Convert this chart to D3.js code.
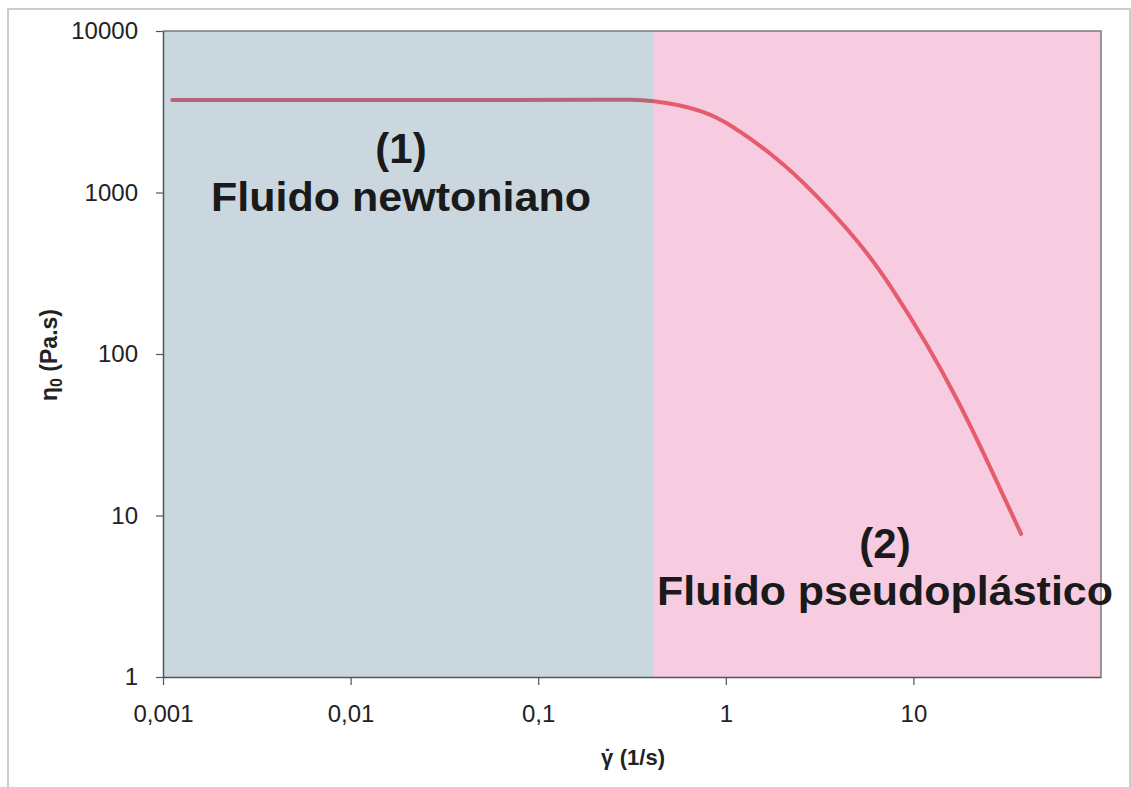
<!DOCTYPE html>
<html>
<head>
<meta charset="utf-8">
<script src="https://cdn.jsdelivr.net/npm/d3@7"></script>
<style>
  body { margin: 0; background: #fff; }
  svg { display: block; }
</style>
</head>
<body>
<svg id="chart"></svg>
<script>
// shear rate (1/s) and viscosity (Pa.s)
const shearRate = [0.00112, 0.05, 0.25, 0.31, 0.414, 0.562, 0.75, 1.04, 1.91, 2.87, 5.28, 7.64, 11.6, 17.3, 25.1, 37.5];
const viscosity = [3740, 3740, 3745, 3770, 3690, 3483, 3197, 2692, 1612, 1036, 480, 260, 120, 51.9, 21.1, 7.7];

// region limits on the x axis: newtonian | pseudoplastic
const regionBounds = [0.001, 0.414, 100];
const regionColors = ['#c9d6de', '#f7cbe0'];
const regionNumbers = ['(1)', '(2)'];
const regionNames = ['Fluido newtoniano', 'Fluido pseudoplástico'];

const xTicks = [0.001, 0.01, 0.1, 1, 10];
const xTickLabels = ['0,001', '0,01', '0,1', '1', '10'];
const yTicks = [1, 10, 100, 1000, 10000];
const yTickLabels = ['1', '10', '100', '1000', '10000'];

const width = 1131;
const height = 787;
const font = "'Liberation Sans', Arial, sans-serif";

const svg = d3.select('#chart')
  .attr('width', width)
  .attr('height', height)
  .style('font-family', font);

// outer frame
svg.append('rect')
  .attr('x', 8).attr('y', 9)
  .attr('width', 1122).attr('height', 800)
  .attr('fill', 'none')
  .attr('stroke', '#cccccc')
  .attr('stroke-width', 2);

const x = d3.scaleLog().domain([0.001, 100]).range([163, 1101]);
const y = d3.scaleLog().domain([1, 10000]).range([677, 31]);

// pink background first, line, then translucent blue region on top
const regions = d3.pairs(regionBounds);

svg.append('rect')
  .attr('x', x(regions[1][0]))
  .attr('y', y(10000))
  .attr('width', x(regions[1][1]) - x(regions[1][0]))
  .attr('height', y(1) - y(10000))
  .attr('fill', regionColors[1]);

const line = d3.line()
  .x(d => x(d[0]))
  .y(d => y(d[1]))
  .curve(d3.curveBasis);

svg.append('path')
  .datum(d3.zip(shearRate, viscosity))
  .attr('d', line)
  .attr('fill', 'none')
  .attr('stroke', '#e55c6c')
  .attr('stroke-width', 4)
  .attr('stroke-linecap', 'round');

svg.append('rect')
  .attr('x', x(regions[0][0]))
  .attr('y', y(10000))
  .attr('width', x(regions[0][1]) - x(regions[0][0]))
  .attr('height', y(1) - y(10000))
  .attr('fill', '#4e7a94')
  .attr('fill-opacity', 0.3);

// frame top and right
svg.append('path')
  .attr('d', `M${x(0.001)},${y(10000)}H${x(100)}V${y(1)}`)
  .attr('fill', 'none')
  .attr('stroke', '#7a7a7a')
  .attr('stroke-width', 1.5);

// minor ticks
const minorX = [];
for (let e = -3; e < 2; e++) for (let m = 2; m <= 9; m++) minorX.push(m * Math.pow(10, e));
const minorY = [];
for (let e = 0; e < 4; e++) for (let m = 2; m <= 9; m++) minorY.push(m * Math.pow(10, e));

const gx = svg.append('g').attr('transform', `translate(0,${y(1)})`);
gx.call(d3.axisBottom(x).tickValues(minorX).tickSize(-5).tickSizeOuter(0).tickFormat(''));
gx.call(d3.axisBottom(x).tickValues(xTicks).tickSizeInner(8).tickSizeOuter(0).tickPadding(20)
  .tickFormat((d, i) => xTickLabels[i]));

const gy = svg.append('g').attr('transform', `translate(${x(0.001)},0)`);
gy.call(d3.axisLeft(y).tickValues(minorY).tickSize(-5).tickSizeOuter(0).tickFormat(''));
gy.call(d3.axisLeft(y).tickValues(yTicks).tickSizeInner(7).tickSizeOuter(0).tickPadding(18)
  .tickFormat((d, i) => yTickLabels[i]));

svg.selectAll('.domain').attr('stroke', '#555').attr('stroke-width', 1.5);
svg.selectAll('.tick line').attr('stroke', '#555').attr('stroke-width', 1.2);
svg.selectAll('.tick text')
  .attr('fill', '#222')
  .style('font-family', font)
  .style('font-size', '24px');

// axis titles
const xTitle = svg.append('text')
  .attr('x', 633).attr('y', 765)
  .attr('text-anchor', 'middle')
  .style('font-size', '22px')
  .style('font-weight', 'bold')
  .attr('fill', '#222');
xTitle.append('tspan').text('\u03B3');
xTitle.append('tspan').attr('dx', -9.5).text('\u02D9');
xTitle.append('tspan').attr('dx', 2.5).text(' (1/s)');

const yTitle = svg.append('text')
  .attr('transform', 'translate(57,355) rotate(-90)')
  .attr('text-anchor', 'middle')
  .style('font-size', '23px')
  .style('font-weight', 'bold')
  .attr('fill', '#222');
yTitle.append('tspan').text('\u03B7');
yTitle.append('tspan').attr('dy', 5).style('font-size', '16px').text('0');
yTitle.append('tspan').attr('dy', -5).text(' (Pa.s)');

// region labels
const labelPos = [
  { cx: 401, y1: 163, y2: 211, len: 380 },
  { cx: 885, y1: 558, y2: 605, len: 456 }
];

labelPos.forEach((p, i) => {
  svg.append('text')
    .attr('x', p.cx).attr('y', p.y1)
    .attr('text-anchor', 'middle')
    .style('font-size', '42px')
    .style('font-weight', 'bold')
    .attr('fill', '#1a1a1a')
    .text(regionNumbers[i]);
  svg.append('text')
    .attr('x', p.cx).attr('y', p.y2)
    .attr('text-anchor', 'middle')
    .attr('textLength', p.len)
    .attr('lengthAdjust', 'spacingAndGlyphs')
    .style('font-size', '40px')
    .style('font-weight', 'bold')
    .attr('fill', '#1a1a1a')
    .text(regionNames[i]);
});
</script>
</body>
</html>
